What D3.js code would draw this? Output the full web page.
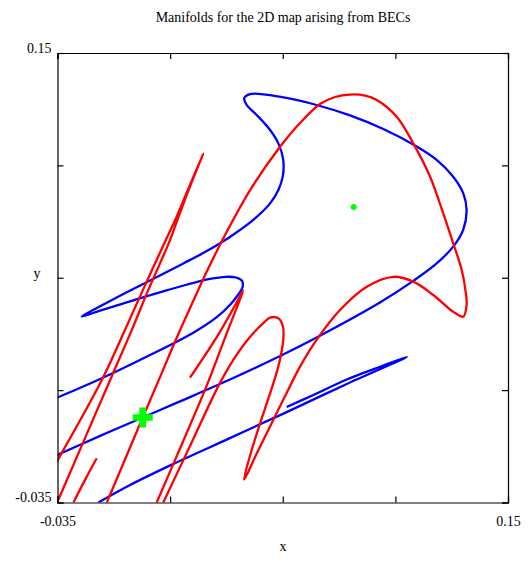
<!DOCTYPE html>
<html lang="en">
<head>
    <meta charset="UTF-8">
    <title>Manifolds for the 2D map arising from BECs</title>
    <script src="https://d3js.org/d3.v7.min.js"></script>
    <style>
        body { margin: 0; background: #fff; }
        text { font-family: "Liberation Serif", "DejaVu Serif", serif; font-size: 14px; }
    </style>
</head>
<body>
    <script>
        // axis limits and tick positions
        const xDomain = [-0.035, 0.15];
        const yDomain = [-0.035, 0.15];
        const tickVals = [-0.035, 0.01125, 0.0575, 0.10375, 0.15];
        const tickLabels = ["-0.035", "0.15"];

        // unstable manifold (blue)
        const blueMain = [
            [-0.0350, 0.0082], [-0.0184, 0.0154], [0.0030, 0.0257], [0.0206, 0.0348],
            [0.0304, 0.0413], [0.0358, 0.0463], [0.0391, 0.0504], [0.0410, 0.0537],
            [0.0408, 0.0562], [0.0383, 0.0576], [0.0342, 0.0579], [0.0276, 0.0570],
            [0.0098, 0.0523], [-0.0039, 0.0482], [-0.0175, 0.0440], [-0.0251, 0.0415],
            [-0.0196, 0.0446], [-0.0107, 0.0494], [0.0030, 0.0564], [0.0167, 0.0634],
            [0.0263, 0.0685], [0.0358, 0.0743], [0.0454, 0.0813], [0.0523, 0.0881],
            [0.0557, 0.0936], [0.0575, 0.0991], [0.0577, 0.1060], [0.0557, 0.1128],
            [0.0523, 0.1183], [0.0468, 0.1245], [0.0427, 0.1286], [0.0417, 0.1314],
            [0.0441, 0.1331], [0.0577, 0.1317], [0.0714, 0.1286], [0.0851, 0.1243],
            [0.0988, 0.1187], [0.1125, 0.1115], [0.1207, 0.1060], [0.1275, 0.0991],
            [0.1316, 0.0923], [0.1330, 0.0854], [0.1316, 0.0772], [0.1275, 0.0703],
            [0.1207, 0.0634], [0.1111, 0.0562], [0.0974, 0.0473], [0.0714, 0.0329],
            [0.0564, 0.0253], [0.0358, 0.0156], [0.0153, 0.0066], [0.0000, 0.0000],
            [-0.0175, -0.0076], [-0.0353, -0.0155]
        ];
        const blueFold = [
            [-0.0182, -0.0350], [-0.0052, -0.0278], [0.0124, -0.0192], [0.0358, -0.0085],
            [0.0591, 0.0022], [0.0838, 0.0138], [0.1085, 0.0249], [0.0954, 0.0201],
            [0.0838, 0.0156], [0.0687, 0.0086], [0.0591, 0.0043]
        ];

        // stable manifold (red) pieces
        const redMain = [
            [-0.0148, -0.0351], [-0.0073, -0.0173], [0.0000, 0.0000], [0.0071, 0.0166],
            [0.0139, 0.0327], [0.0228, 0.0525], [0.0269, 0.0613], [0.0338, 0.0751],
            [0.0441, 0.0936], [0.0564, 0.1114], [0.0646, 0.1212], [0.0728, 0.1290],
            [0.0790, 0.1319], [0.0851, 0.1329], [0.0913, 0.1325], [0.0961, 0.1307],
            [0.1043, 0.1238], [0.1111, 0.1128], [0.1180, 0.0991], [0.1234, 0.0840],
            [0.1275, 0.0717], [0.1310, 0.0607], [0.1325, 0.0525], [0.1330, 0.0463],
            [0.1316, 0.0415], [0.1275, 0.0435], [0.1193, 0.0504], [0.1111, 0.0559],
            [0.1029, 0.0579], [0.0920, 0.0538], [0.0810, 0.0442], [0.0714, 0.0319],
            [0.0646, 0.0209], [0.0597, 0.0113], [0.0536, -0.0010], [0.0475, -0.0134],
            [0.0416, -0.0255], [0.0445, -0.0142], [0.0482, -0.0024], [0.0514, 0.0072],
            [0.0547, 0.0175], [0.0566, 0.0250], [0.0577, 0.0319], [0.0576, 0.0372],
            [0.0557, 0.0408], [0.0523, 0.0411], [0.0495, 0.0388], [0.0441, 0.0332],
            [0.0372, 0.0237], [0.0313, 0.0134], [0.0198, -0.0109], [0.0084, -0.0351]
        ];
        const redTip = [
            [0.0057, -0.0351], [0.0161, -0.0109], [0.0264, 0.0134], [0.0342, 0.0339],
            [0.0412, 0.0522], [0.0391, 0.0483], [0.0309, 0.0339], [0.0194, 0.0164]
        ];
        const redSpike = [
            [-0.0353, -0.0182], [-0.0168, 0.0154], [-0.0073, 0.0360], [0.0001, 0.0525],
            [0.0091, 0.0722], [0.0137, 0.0821], [0.0194, 0.0957], [0.0249, 0.1087],
            [0.0198, 0.0961], [0.0145, 0.0821], [0.0112, 0.0730], [0.0023, 0.0525],
            [-0.0045, 0.0360], [-0.0134, 0.0154], [-0.0347, -0.0340]
        ];
        const redDash = [
            [-0.0189, -0.0168], [-0.0237, -0.0257], [-0.0285, -0.0351]
        ];

        // fixed points
        const saddle = [0.0, 0.0];
        const centre = [0.0866, 0.0866];

        const width = 531, height = 561;
        const margin = {left: 57.5, right: 23, top: 53, bottom: 58.5};

        const x = d3.scaleLinear().domain(xDomain).range([margin.left, width - margin.right]);
        const y = d3.scaleLinear().domain(yDomain).range([height - margin.bottom, margin.top]);

        const svg = d3.select("body").append("svg")
            .attr("width", width)
            .attr("height", height);

        svg.append("clipPath").attr("id", "plot")
            .append("rect")
            .attr("x", x(xDomain[0])).attr("y", y(yDomain[1]))
            .attr("width", x(xDomain[1]) - x(xDomain[0]))
            .attr("height", y(yDomain[0]) - y(yDomain[1]));

        const line = d3.line()
            .x(d => x(d[0]))
            .y(d => y(d[1]))
            .curve(d3.curveCatmullRom.alpha(0.5));

        const g = svg.append("g").attr("clip-path", "url(#plot)");

        [blueMain, blueFold].forEach(c => {
            g.append("path").attr("d", line(c))
                .attr("fill", "none").attr("stroke", "#0000ff").attr("stroke-width", 2.3);
        });
        [redMain, redTip, redSpike, redDash].forEach(c => {
            g.append("path").attr("d", line(c))
                .attr("fill", "none").attr("stroke", "#ff0000").attr("stroke-width", 2.3)
                .attr("stroke-linejoin", "round");
        });

        g.append("path")
            .attr("d", d3.symbol().type(d3.symbolCross).size(222)())
            .attr("transform", `translate(${x(saddle[0])},${y(saddle[1])})`)
            .attr("fill", "#00ff00");
        g.append("circle")
            .attr("cx", x(centre[0])).attr("cy", y(centre[1])).attr("r", 3)
            .attr("fill", "#00ff00");

        // axes: ticks inward on all four sides, labels only at ends
        const fmt = d => (d === xDomain[0] ? tickLabels[0] : d === xDomain[1] ? tickLabels[1] : "");
        const axBottom = svg.append("g").attr("transform", `translate(0,${y(yDomain[0])})`)
            .call(d3.axisBottom(x).tickValues(tickVals).tickSize(-6).tickFormat(fmt));
        const axTop = svg.append("g").attr("transform", `translate(0,${y(yDomain[1])})`)
            .call(d3.axisTop(x).tickValues(tickVals).tickSize(-6).tickFormat(""));
        const axLeft = svg.append("g").attr("transform", `translate(${x(xDomain[0])},0)`)
            .call(d3.axisLeft(y).tickValues(tickVals).tickSize(-6).tickFormat(fmt));
        const axRight = svg.append("g").attr("transform", `translate(${x(xDomain[1])},0)`)
            .call(d3.axisRight(y).tickValues(tickVals).tickSize(-6).tickFormat(""));

        [axBottom, axTop, axLeft, axRight].forEach(a => {
            a.select(".domain").attr("stroke", "#000").attr("stroke-width", 1.2);
            a.selectAll(".tick line").attr("stroke", "#000").attr("stroke-width", 1.2);
            a.selectAll("text").attr("fill", "#000")
                .style("font-family", "'Liberation Serif', serif").style("font-size", "14px");
        });
        axBottom.selectAll(".tick text").attr("y", 14);
        axLeft.selectAll(".tick text").attr("x", -6).attr("dy", "-0.05em");

        svg.append("text").attr("x", 283).attr("y", 22).attr("text-anchor", "middle")
            .text("Manifolds for the 2D map arising from BECs");
        svg.append("text").attr("x", 283).attr("y", 551).attr("text-anchor", "middle").text("x");
        svg.append("text").attr("x", 37).attr("y", 278).attr("text-anchor", "middle").text("y");
    </script>
</body>
</html>
